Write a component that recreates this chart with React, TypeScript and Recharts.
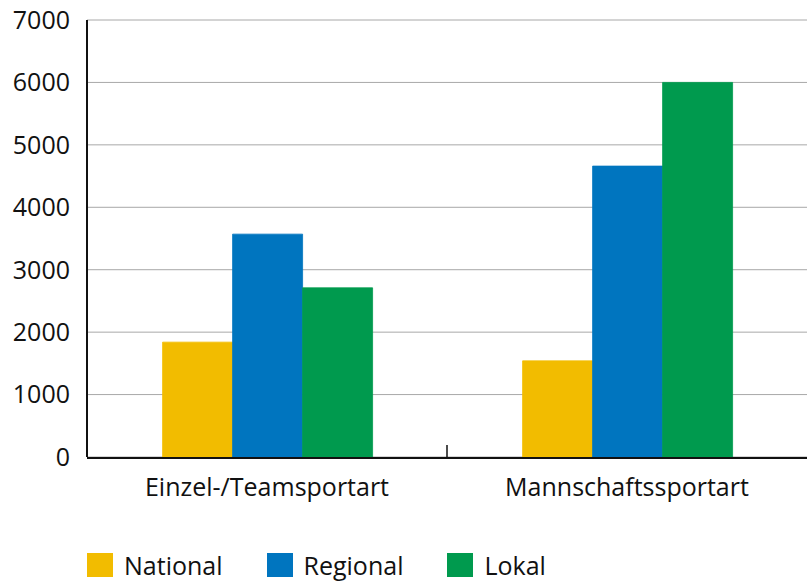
import { Bar, BarChart, CartesianGrid, Legend, XAxis, YAxis } from "recharts";

const categories = ["Einzel-/Teamsportart", "Mannschaftssportart"];
const national = [1840, 1540];
const regional = [3570, 4660];
const lokal = [2710, 6000];
const yTicks = [0, 1000, 2000, 3000, 4000, 5000, 6000, 7000];

const series = [
  { key: "national", name: "National", color: "#F2BC00" },
  { key: "regional", name: "Regional", color: "#0075BF" },
  { key: "lokal", name: "Lokal", color: "#009A4E" },
];

const data = categories.map((category, i) => ({
  category,
  pos: i + 0.5,
  national: national[i],
  regional: regional[i],
  lokal: lokal[i],
}));

const font = "'Open Sans', sans-serif";

function LegendContent() {
  return (
    <div style={{ display: "flex", alignItems: "center", height: 36, fontFamily: font }}>
      {series.map((s) => (
        <div key={s.key} style={{ display: "flex", alignItems: "center", marginRight: 44 }}>
          <span style={{ display: "inline-block", width: 26, height: 24, background: s.color }} />
          <span style={{ marginLeft: 11, fontSize: 25, color: "#111", lineHeight: "36px" }}>{s.name}</span>
        </div>
      ))}
    </div>
  );
}

// small tick mark pointing up into the plot, between the two categories
function DividerTick({ x, y }: { x?: number; y?: number }) {
  if (x == null || y == null) return null;
  return <line x1={x} x2={x} y1={y} y2={y - 12} stroke="#111" strokeWidth={1.5} />;
}

export default function App() {
  return (
    <div style={{ fontFamily: font }}>
      <style>{"body{margin:0;overflow:hidden}"}</style>
      <BarChart
        width={807}
        height={583}
        data={data}
        margin={{ top: 20, right: 0, bottom: 0, left: 0 }}
        barCategoryGap="21%"
        barGap={0}
      >
        <CartesianGrid xAxisId="cat" vertical={false} stroke="#A8A8A8" strokeWidth={1} />
        <XAxis
          xAxisId="cat"
          dataKey="category"
          height={89}
          axisLine={{ stroke: "#111", strokeWidth: 2 }}
          tickLine={false}
          tickSize={0}
          tickMargin={20}
          tick={{ fill: "#111", fontSize: 25, fontFamily: font }}
        />
        <XAxis
          xAxisId="a"
          type="number"
          dataKey="pos"
          domain={[0, 2]}
          ticks={[1]}
          interval={0}
          height={1}
          axisLine={false}
          tickLine={false}
          tickSize={0}
          tickMargin={0}
          tick={<DividerTick />}
        />
        <YAxis
          domain={[0, 7000]}
          ticks={yTicks}
          width={87}
          axisLine={{ stroke: "#111", strokeWidth: 2 }}
          tickLine={false}
          tickSize={0}
          tickMargin={17}
          tick={{ fill: "#111", fontSize: 25, fontFamily: font }}
        />
        <Legend
          verticalAlign="bottom"
          content={<LegendContent />}
          wrapperStyle={{ left: 87, bottom: 0, width: "auto" }}
        />
        {series.map((s) => (
          <Bar
            key={s.key}
            xAxisId="cat"
            dataKey={s.key}
            name={s.name}
            fill={s.color}
            stroke={s.color}
            strokeWidth={0.8}
            isAnimationActive={false}
          />
        ))}
      </BarChart>
    </div>
  );
}
